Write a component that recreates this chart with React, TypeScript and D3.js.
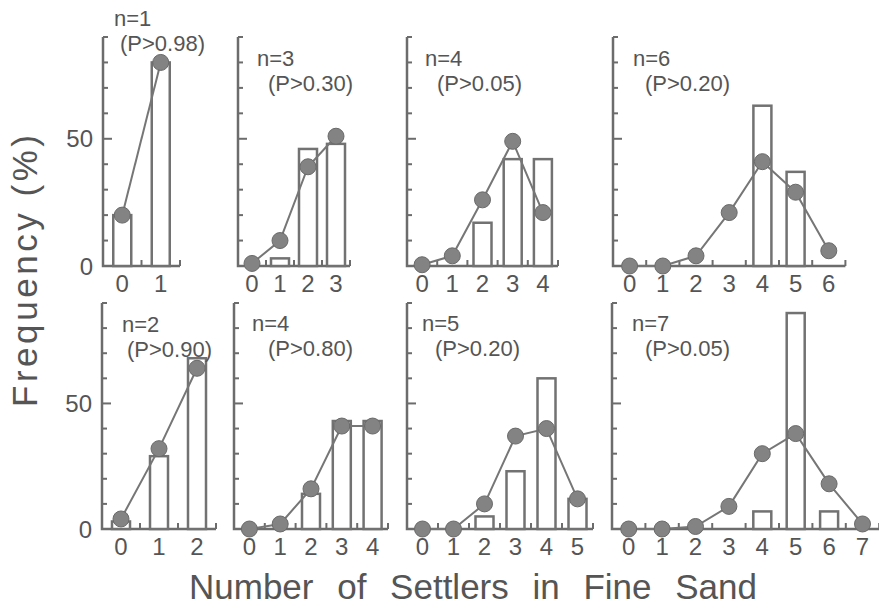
// Frequency of settlers in fine sand: observed (bars) vs expected (dots + line)
import React, { useEffect, useRef } from 'react'
import * as d3 from 'd3'

const sampleSizes = [1, 3, 4, 6, 2, 4, 5, 7]
const pLabels = ['(P>0.98)', '(P>0.30)', '(P>0.05)', '(P>0.20)', '(P>0.90)', '(P>0.80)', '(P>0.20)', '(P>0.05)']

// observed frequencies (%) per number of settlers in fine sand
const observed = [
  [20, 80],
  [0, 3, 46, 48],
  [0, 0, 17, 42, 42],
  [0, 0, 0, 0, 63, 37, 0],
  [3, 29, 68],
  [0, 0, 14, 43, 43],
  [0, 0, 5, 23, 60, 12],
  [0, 0, 0, 0, 7, 86, 7, 0]
]

// expected frequencies (%)
const expected = [
  [20, 80],
  [1, 10, 39, 51],
  [0.5, 4, 26, 49, 21],
  [0, 0, 4, 21, 41, 29, 6],
  [4, 32, 64],
  [0, 2, 16, 41, 41],
  [0, 0, 10, 37, 40, 12],
  [0, 0, 1, 9, 30, 38, 18, 2]
]

const yTicks = [10, 20, 30, 40, 50, 60, 70, 80, 90]
const yTickLabels = [0, 50]

const xTitle = 'Number of Settlers in Fine Sand'
const yTitle = 'Frequency (%)'

// panel geometry
const panels = [
  { left: 103, bw: 38.5, row: 0, nDx: 11, pDx: 17, nY: 26, pY: 51 },
  { left: 238, bw: 28, row: 0, nDx: 19, pDx: 30, nY: 66, pY: 91 },
  { left: 407, bw: 30.2, row: 0, nDx: 18, pDx: 30, nY: 66, pY: 91 },
  { left: 613, bw: 33.2, row: 0, nDx: 20, pDx: 32, nY: 66, pY: 91 },
  { left: 102, bw: 38, row: 1, nDx: 20, pDx: 25, nY: 332, pY: 357 },
  { left: 234, bw: 30.8, row: 1, nDx: 18, pDx: 34, nY: 331, pY: 356 },
  { left: 407, bw: 31, row: 1, nDx: 15, pDx: 28, nY: 331, pY: 356 },
  { left: 612, bw: 33.4, row: 1, nDx: 20, pDx: 33, nY: 331, pY: 356 }
]
const rows = [{ base: 266, top: 37 }, { base: 529, top: 303 }]

const axisColor = '#6c6c6c'
const textColor = '#555555'
const font = 'Liberation Sans, Arial, Helvetica, sans-serif'

function App () {
  const ref = useRef<SVGSVGElement>(null)

  useEffect(() => {
    const svg = d3.select(ref.current)
    svg.selectAll('*').remove()

    panels.forEach((p, k) => {
      const row = rows[p.row]
      const obs = observed[k]
      const exp = expected[k]
      const cats = obs.map((_, i) => i)

      const x = d3.scaleBand<number>()
        .domain(cats)
        .range([p.left, p.left + p.bw * cats.length])
        .padding(0)
      const y = d3.scaleLinear().domain([0, 90]).range([row.base, row.top])

      const g = svg.append('g')
      const xEnd = x.range()[1]

      // axes
      g.append('path')
        .attr('d', `M${p.left},${y(90)}V${y(0)}H${xEnd}`)
        .attr('fill', 'none')
        .attr('stroke', axisColor)
        .attr('stroke-width', 2.5)

      g.selectAll('.ytick')
        .data(yTicks)
        .enter()
        .append('line')
        .attr('x1', p.left)
        .attr('x2', d => p.left + (d === 50 ? 9 : 5))
        .attr('y1', d => y(d))
        .attr('y2', d => y(d))
        .attr('stroke', axisColor)
        .attr('stroke-width', 2)

      g.selectAll('.xtick')
        .data(cats)
        .enter()
        .append('line')
        .attr('x1', d => (x(d) as number) + x.bandwidth())
        .attr('x2', d => (x(d) as number) + x.bandwidth())
        .attr('y1', y(0))
        .attr('y2', y(0) - 6)
        .attr('stroke', axisColor)
        .attr('stroke-width', 2)

      g.selectAll('.xlabel')
        .data(cats)
        .enter()
        .append('text')
        .attr('x', d => (x(d) as number) + x.bandwidth() / 2)
        .attr('y', y(0) + 26)
        .attr('text-anchor', 'middle')
        .attr('font-size', 24)
        .attr('font-family', font)
        .attr('fill', textColor)
        .text(d => d)

      if (k === 0 || k === 4) {
        g.selectAll('.ylabel')
          .data(yTickLabels)
          .enter()
          .append('text')
          .attr('x', p.left - 10)
          .attr('y', d => y(d))
          .attr('dy', '0.36em')
          .attr('text-anchor', 'end')
          .attr('font-size', 24)
          .attr('font-family', font)
          .attr('fill', textColor)
          .text(d => d)
      }

      // observed bars
      g.selectAll('.bar')
        .data(obs.map((v, i) => ({ i, v })).filter(d => d.v > 0))
        .enter()
        .append('rect')
        .attr('x', d => (x(d.i) as number) + x.bandwidth() / 2 - 9)
        .attr('width', 18)
        .attr('y', d => y(d.v))
        .attr('height', d => y(0) - y(d.v))
        .attr('fill', 'white')
        .attr('stroke', '#727272')
        .attr('stroke-width', 2.5)

      // expected line + dots
      const line = d3.line<number>()
        .x((_, i) => (x(i) as number) + x.bandwidth() / 2)
        .y(d => y(d))

      g.append('path')
        .datum(exp)
        .attr('d', line)
        .attr('fill', 'none')
        .attr('stroke', '#767676')
        .attr('stroke-width', 2)

      g.selectAll('.dot')
        .data(exp)
        .enter()
        .append('circle')
        .attr('cx', (_, i) => (x(i) as number) + x.bandwidth() / 2)
        .attr('cy', d => y(d))
        .attr('r', 8)
        .attr('fill', '#838383')
        .attr('stroke', '#6a6a6a')
        .attr('stroke-width', 1)

      // annotations
      g.append('text')
        .attr('x', p.left + p.nDx)
        .attr('y', p.nY)
        .attr('font-size', 22)
        .attr('font-family', font)
        .attr('fill', textColor)
        .text('n=' + sampleSizes[k])

      g.append('text')
        .attr('x', p.left + p.pDx)
        .attr('y', p.pY)
        .attr('font-size', 22)
        .attr('font-family', font)
        .attr('fill', textColor)
        .text(pLabels[k])
    })

    svg.append('text')
      .attr('x', 473)
      .attr('y', 599)
      .attr('text-anchor', 'middle')
      .attr('font-size', 35)
      .attr('font-family', font)
      .attr('fill', textColor)
      .attr('word-spacing', 14)
      .text(xTitle)

    svg.append('text')
      .attr('transform', 'translate(37,271) rotate(-90)')
      .attr('text-anchor', 'middle')
      .attr('font-size', 35)
      .attr('font-family', font)
      .attr('fill', textColor)
      .attr('textLength', 272)
      .attr('lengthAdjust', 'spacing')
      .text(yTitle)
  }, [])

  return (
    <svg
      ref={ref}
      width={879}
      height={607}
      style={{ position: 'absolute', left: 0, top: 0, background: 'white' }}
    />
  )
}

export default App
